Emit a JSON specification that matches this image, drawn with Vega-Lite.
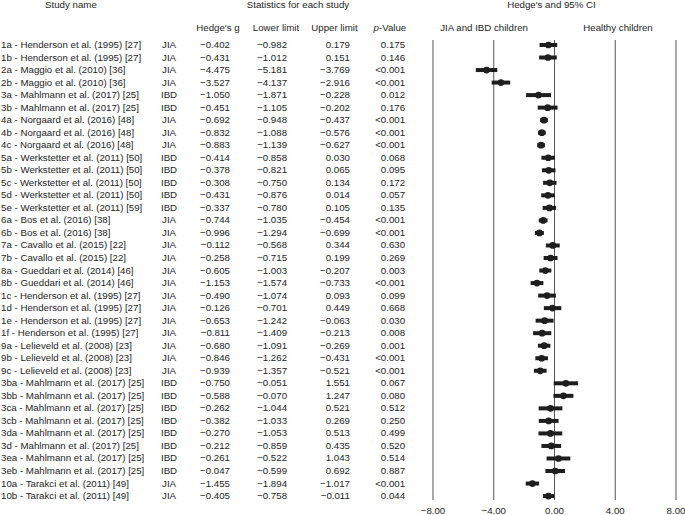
{
  "$schema": "https://vega.github.io/schema/vega-lite/v6.json",
  "width": 685,
  "height": 515,
  "padding": 0,
  "autosize": {"type": "none"},
  "background": "white",
  "config": {
    "view": {"stroke": null},
    "text": {"font": "Liberation Sans", "fontSize": 9.7, "color": "#1e1e1e", "baseline": "middle"}
  },
  "datasets": {
    "rows": [
      {"i": 0, "name": "1a - Henderson et al. (1995) [27]", "grp": "JIA", "g": -0.402, "lo": -0.982, "hi": 0.179, "p": "0.175", "px": -0.402, "plo": -0.982, "phi": 0.179},
      {"i": 1, "name": "1b - Henderson et al. (1995) [27]", "grp": "JIA", "g": -0.431, "lo": -1.012, "hi": 0.151, "p": "0.146", "px": -0.431, "plo": -1.012, "phi": 0.151},
      {"i": 2, "name": "2a - Maggio et al. (2010) [36]", "grp": "JIA", "g": -4.475, "lo": -5.181, "hi": -3.769, "p": "<0.001", "px": -4.475, "plo": -5.181, "phi": -3.769},
      {"i": 3, "name": "2b - Maggio et al. (2010) [36]", "grp": "JIA", "g": -3.527, "lo": -4.137, "hi": -2.916, "p": "<0.001", "px": -3.527, "plo": -4.137, "phi": -2.916},
      {"i": 4, "name": "3a - Mahlmann et al. (2017) [25]", "grp": "IBD", "g": -1.050, "lo": -1.871, "hi": -0.228, "p": "0.012", "px": -1.050, "plo": -1.871, "phi": -0.228},
      {"i": 5, "name": "3b - Mahlmann et al. (2017) [25]", "grp": "IBD", "g": -0.451, "lo": -1.105, "hi": -0.202, "p": "0.176", "px": -0.451, "plo": -1.105, "phi": 0.202},
      {"i": 6, "name": "4a - Norgaard et al. (2016) [48]", "grp": "JIA", "g": -0.692, "lo": -0.948, "hi": -0.437, "p": "<0.001", "px": -0.692, "plo": -0.948, "phi": -0.437},
      {"i": 7, "name": "4b - Norgaard et al. (2016) [48]", "grp": "JIA", "g": -0.832, "lo": -1.088, "hi": -0.576, "p": "<0.001", "px": -0.832, "plo": -1.088, "phi": -0.576},
      {"i": 8, "name": "4c - Norgaard et al. (2016) [48]", "grp": "JIA", "g": -0.883, "lo": -1.139, "hi": -0.627, "p": "<0.001", "px": -0.883, "plo": -1.139, "phi": -0.627},
      {"i": 9, "name": "5a - Werkstetter et al. (2011) [50]", "grp": "IBD", "g": -0.414, "lo": -0.858, "hi": 0.030, "p": "0.068", "px": -0.414, "plo": -0.858, "phi": 0.030},
      {"i": 10, "name": "5b - Werkstetter et al. (2011) [50]", "grp": "IBD", "g": -0.378, "lo": -0.821, "hi": 0.065, "p": "0.095", "px": -0.378, "plo": -0.821, "phi": 0.065},
      {"i": 11, "name": "5c - Werkstetter et al. (2011) [50]", "grp": "IBD", "g": -0.308, "lo": -0.750, "hi": 0.134, "p": "0.172", "px": -0.308, "plo": -0.750, "phi": 0.134},
      {"i": 12, "name": "5d - Werkstetter et al. (2011) [50]", "grp": "IBD", "g": -0.431, "lo": -0.876, "hi": 0.014, "p": "0.057", "px": -0.431, "plo": -0.876, "phi": 0.014},
      {"i": 13, "name": "5e - Werkstetter et al. (2011) [59]", "grp": "IBD", "g": -0.337, "lo": -0.780, "hi": 0.105, "p": "0.135", "px": -0.337, "plo": -0.780, "phi": 0.105},
      {"i": 14, "name": "6a - Bos et al. (2016) [38]", "grp": "JIA", "g": -0.744, "lo": -1.035, "hi": -0.454, "p": "<0.001", "px": -0.744, "plo": -1.035, "phi": -0.454},
      {"i": 15, "name": "6b - Bos et al. (2016) [38]", "grp": "JIA", "g": -0.996, "lo": -1.294, "hi": -0.699, "p": "<0.001", "px": -0.996, "plo": -1.294, "phi": -0.699},
      {"i": 16, "name": "7a - Cavallo et al. (2015) [22]", "grp": "JIA", "g": -0.112, "lo": -0.568, "hi": 0.344, "p": "0.630", "px": -0.112, "plo": -0.568, "phi": 0.344},
      {"i": 17, "name": "7b - Cavallo et al. (2015) [22]", "grp": "JIA", "g": -0.258, "lo": -0.715, "hi": 0.199, "p": "0.269", "px": -0.258, "plo": -0.715, "phi": 0.199},
      {"i": 18, "name": "8a - Gueddari et al. (2014) [46]", "grp": "JIA", "g": -0.605, "lo": -1.003, "hi": -0.207, "p": "0.003", "px": -0.605, "plo": -1.003, "phi": -0.207},
      {"i": 19, "name": "8b - Gueddari et al. (2014) [46]", "grp": "JIA", "g": -1.153, "lo": -1.574, "hi": -0.733, "p": "<0.001", "px": -1.153, "plo": -1.574, "phi": -0.733},
      {"i": 20, "name": "1c - Henderson et al. (1995) [27]", "grp": "JIA", "g": -0.490, "lo": -1.074, "hi": 0.093, "p": "0.099", "px": -0.490, "plo": -1.074, "phi": 0.093},
      {"i": 21, "name": "1d - Henderson et al. (1995) [27]", "grp": "JIA", "g": -0.126, "lo": -0.701, "hi": 0.449, "p": "0.668", "px": -0.126, "plo": -0.701, "phi": 0.449},
      {"i": 22, "name": "1e - Henderson et al. (1995) [27]", "grp": "JIA", "g": -0.653, "lo": -1.242, "hi": -0.063, "p": "0.030", "px": -0.653, "plo": -1.242, "phi": -0.063},
      {"i": 23, "name": "1f - Henderson et al. (1995) [27]", "grp": "JIA", "g": -0.811, "lo": -1.409, "hi": -0.213, "p": "0.008", "px": -0.811, "plo": -1.409, "phi": -0.213},
      {"i": 24, "name": "9a - Lelieveld et al. (2008) [23]", "grp": "JIA", "g": -0.680, "lo": -1.091, "hi": -0.269, "p": "0.001", "px": -0.680, "plo": -1.091, "phi": -0.269},
      {"i": 25, "name": "9b - Lelieveld et al. (2008) [23]", "grp": "JIA", "g": -0.846, "lo": -1.262, "hi": -0.431, "p": "<0.001", "px": -0.846, "plo": -1.262, "phi": -0.431},
      {"i": 26, "name": "9c - Lelieveld et al. (2008) [23]", "grp": "JIA", "g": -0.939, "lo": -1.357, "hi": -0.521, "p": "<0.001", "px": -0.939, "plo": -1.357, "phi": -0.521},
      {"i": 27, "name": "3ba - Mahlmann et al. (2017) [25]", "grp": "IBD", "g": -0.750, "lo": -0.051, "hi": 1.551, "p": "0.067", "px": 0.750, "plo": -0.051, "phi": 1.551},
      {"i": 28, "name": "3bb - Mahlmann et al. (2017) [25]", "grp": "IBD", "g": -0.588, "lo": -0.070, "hi": 1.247, "p": "0.080", "px": 0.588, "plo": -0.070, "phi": 1.247},
      {"i": 29, "name": "3ca - Mahlmann et al. (2017) [25]", "grp": "IBD", "g": -0.262, "lo": -1.044, "hi": 0.521, "p": "0.512", "px": -0.262, "plo": -1.044, "phi": 0.521},
      {"i": 30, "name": "3cb - Mahlmann et al. (2017) [25]", "grp": "IBD", "g": -0.382, "lo": -1.033, "hi": 0.269, "p": "0.250", "px": -0.382, "plo": -1.033, "phi": 0.269},
      {"i": 31, "name": "3da - Mahlmann et al. (2017) [25]", "grp": "IBD", "g": -0.270, "lo": -1.053, "hi": 0.513, "p": "0.499", "px": -0.270, "plo": -1.053, "phi": 0.513},
      {"i": 32, "name": "3d - Mahlmann et al. (2017) [25]", "grp": "IBD", "g": -0.212, "lo": -0.859, "hi": 0.435, "p": "0.520", "px": -0.212, "plo": -0.859, "phi": 0.435},
      {"i": 33, "name": "3ea - Mahlmann et al. (2017) [25]", "grp": "IBD", "g": -0.261, "lo": -0.522, "hi": 1.043, "p": "0.514", "px": 0.261, "plo": -0.522, "phi": 1.043},
      {"i": 34, "name": "3eb - Mahlmann et al. (2017) [25]", "grp": "IBD", "g": -0.047, "lo": -0.599, "hi": 0.692, "p": "0.887", "px": 0.047, "plo": -0.599, "phi": 0.692},
      {"i": 35, "name": "10a - Tarakci et al. (2011) [49]", "grp": "JIA", "g": -1.455, "lo": -1.894, "hi": -1.017, "p": "<0.001", "px": -1.455, "plo": -1.894, "phi": -1.017},
      {"i": 36, "name": "10b - Tarakci et al. (2011) [49]", "grp": "JIA", "g": -0.405, "lo": -0.758, "hi": -0.011, "p": "0.044", "px": -0.405, "plo": -0.758, "phi": -0.011}
    ],
    "ticks": [{"v": -8}, {"v": -4}, {"v": 0}, {"v": 4}, {"v": 8}]
  },
  "data": {"name": "rows"},
  "layer": [
    {
      "data": {"name": "ticks"},
      "mark": {"type": "rule", "stroke": "#555555", "strokeWidth": 1},
      "encoding": {
        "x": {"field": "v", "type": "quantitative", "scale": {"domain": [-36.51, 8.593], "nice": false, "zero": false}, "axis": null},
        "y": {"datum": -0.4, "type": "quantitative", "scale": {"domain": [-3.59, 37.51], "reverse": true, "nice": false, "zero": false}, "axis": null},
        "y2": {"datum": 36.31}
      }
    },
    {
      "data": {"name": "ticks"},
      "mark": {"type": "text", "align": "center"},
      "encoding": {
        "x": {"field": "v", "type": "quantitative"},
        "y": {"datum": 37.19, "type": "quantitative"},
        "text": {"field": "v", "type": "quantitative", "format": ".2f"}
      }
    },
    {
      "mark": {"type": "rule", "stroke": "#1e1e1e", "strokeWidth": 4},
      "encoding": {
        "x": {"field": "plo", "type": "quantitative"},
        "x2": {"field": "phi"},
        "y": {"field": "i", "type": "quantitative"}
      }
    },
    {
      "mark": {"type": "circle", "color": "#1e1e1e", "opacity": 1, "size": 45},
      "encoding": {
        "x": {"field": "px", "type": "quantitative"},
        "y": {"field": "i", "type": "quantitative"}
      }
    },
    {
      "mark": {"type": "text", "align": "left"},
      "encoding": {
        "x": {"datum": -36.44, "type": "quantitative"},
        "y": {"field": "i", "type": "quantitative"},
        "text": {"field": "name", "type": "nominal"}
      }
    },
    {
      "mark": {"type": "text", "align": "center"},
      "encoding": {
        "x": {"datum": -25.38, "type": "quantitative"},
        "y": {"field": "i", "type": "quantitative"},
        "text": {"field": "grp", "type": "nominal"}
      }
    },
    {
      "mark": {"type": "text", "align": "right"},
      "encoding": {
        "x": {"datum": -21.37, "type": "quantitative"},
        "y": {"field": "i", "type": "quantitative"},
        "text": {"field": "g", "type": "quantitative", "format": ".3f"}
      }
    },
    {
      "mark": {"type": "text", "align": "right"},
      "encoding": {
        "x": {"datum": -17.61, "type": "quantitative"},
        "y": {"field": "i", "type": "quantitative"},
        "text": {"field": "lo", "type": "quantitative", "format": ".3f"}
      }
    },
    {
      "mark": {"type": "text", "align": "right"},
      "encoding": {
        "x": {"datum": -13.47, "type": "quantitative"},
        "y": {"field": "i", "type": "quantitative"},
        "text": {"field": "hi", "type": "quantitative", "format": ".3f"}
      }
    },
    {
      "mark": {"type": "text", "align": "right"},
      "encoding": {
        "x": {"datum": -9.84, "type": "quantitative"},
        "y": {"field": "i", "type": "quantitative"},
        "text": {"field": "p", "type": "nominal"}
      }
    },
    {
      "data": {"values": [{"t": "Study name"}]},
      "mark": {"type": "text", "align": "center"},
      "encoding": {
        "x": {"datum": -31.84, "type": "quantitative"},
        "y": {"datum": -3.19, "type": "quantitative"},
        "text": {"field": "t", "type": "nominal"}
      }
    },
    {
      "data": {"values": [{"t": "Statistics for each study"}]},
      "mark": {"type": "text", "align": "center"},
      "encoding": {
        "x": {"datum": -16.89, "type": "quantitative"},
        "y": {"datum": -3.19, "type": "quantitative"},
        "text": {"field": "t", "type": "nominal"}
      }
    },
    {
      "data": {"values": [{"t": "Hedge's and 95% CI"}]},
      "mark": {"type": "text", "align": "center"},
      "encoding": {
        "x": {"datum": -0.2, "type": "quantitative"},
        "y": {"datum": -3.19, "type": "quantitative"},
        "text": {"field": "t", "type": "nominal"}
      }
    },
    {
      "data": {"values": [{"t": "Hedge's g"}]},
      "mark": {"type": "text", "align": "center"},
      "encoding": {
        "x": {"datum": -22.16, "type": "quantitative"},
        "y": {"datum": -1.36, "type": "quantitative"},
        "text": {"field": "t", "type": "nominal"}
      }
    },
    {
      "data": {"values": [{"t": "Lower limit"}]},
      "mark": {"type": "text", "align": "center"},
      "encoding": {
        "x": {"datum": -18.34, "type": "quantitative"},
        "y": {"datum": -1.36, "type": "quantitative"},
        "text": {"field": "t", "type": "nominal"}
      }
    },
    {
      "data": {"values": [{"t": "Upper limit"}]},
      "mark": {"type": "text", "align": "center"},
      "encoding": {
        "x": {"datum": -14.49, "type": "quantitative"},
        "y": {"datum": -1.36, "type": "quantitative"},
        "text": {"field": "t", "type": "nominal"}
      }
    },
    {
      "data": {"values": [{"t": "p"}]},
      "mark": {"type": "text", "align": "right", "fontStyle": "italic"},
      "encoding": {
        "x": {"datum": -11.56, "type": "quantitative"},
        "y": {"datum": -1.36, "type": "quantitative"},
        "text": {"field": "t", "type": "nominal"}
      }
    },
    {
      "data": {"values": [{"t": "-Value"}]},
      "mark": {"type": "text", "align": "left"},
      "encoding": {
        "x": {"datum": -11.56, "type": "quantitative"},
        "y": {"datum": -1.36, "type": "quantitative"},
        "text": {"field": "t", "type": "nominal"}
      }
    },
    {
      "data": {"values": [{"t": "JIA and IBD children"}]},
      "mark": {"type": "text", "align": "center"},
      "encoding": {
        "x": {"datum": -4.64, "type": "quantitative"},
        "y": {"datum": -1.36, "type": "quantitative"},
        "text": {"field": "t", "type": "nominal"}
      }
    },
    {
      "data": {"values": [{"t": "Healthy children"}]},
      "mark": {"type": "text", "align": "center"},
      "encoding": {
        "x": {"datum": 4.18, "type": "quantitative"},
        "y": {"datum": -1.36, "type": "quantitative"},
        "text": {"field": "t", "type": "nominal"}
      }
    }
  ]
}
